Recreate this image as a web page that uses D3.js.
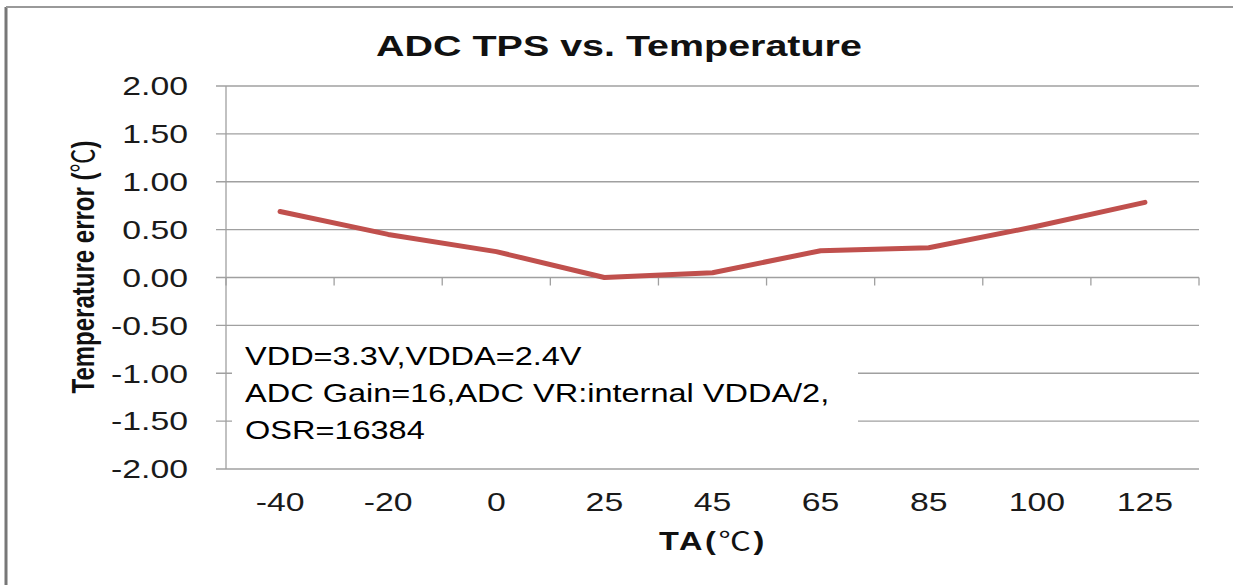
<!DOCTYPE html>
<html><head><meta charset="utf-8">
<script src="https://cdn.jsdelivr.net/npm/d3@7"></script>
<style>body{margin:0;background:#fff}svg{display:block}text{font-family:Arial,"Liberation Sans",sans-serif}</style>
</head><body><svg id="c" width="1233" height="585"></svg>
<script>
const categories = ["-40","-20","0","25","45","65","85","100","125"];
const errorValues = [0.69,0.45,0.27,0.00,0.05,0.28,0.31,0.535,0.785];
const yTicks = [2,1.5,1,0.5,0,-0.5,-1,-1.5,-2];
const notes = ["VDD=3.3V,VDDA=2.4V","ADC Gain=16,ADC VR:internal VDDA/2,","OSR=16384"];

const svg = d3.select("#c");
const L=226,R=1199,T=86,B=469;
const SX=1.3; // horizontal stretch of the original image's text
const x = d3.scaleBand().domain(categories).range([L,R]).padding(0);
const y = d3.scaleLinear().domain([-2,2]).range([B,T]);

// outer frame
svg.append("line").attr("x1",6).attr("x2",6).attr("y1",7).attr("y2",585).attr("stroke","#777").attr("stroke-width",3);
svg.append("line").attr("x1",6).attr("x2",1233).attr("y1",7).attr("y2",7).attr("stroke","#999").attr("stroke-width",2);

// gridlines
svg.append("g").selectAll("line").data(yTicks).join("line")
  .attr("x1",L-10).attr("x2",R).attr("y1",d=>y(d)).attr("y2",d=>y(d))
  .attr("stroke","#a0a0a0").attr("stroke-width",1.3);
// y axis
svg.append("line").attr("x1",L).attr("x2",L).attr("y1",T).attr("y2",B).attr("stroke","#a0a0a0").attr("stroke-width",1.3);
// x ticks on zero line
const bounds = categories.map(c=>x(c)+x.bandwidth()).concat([L]);
svg.append("g").selectAll("line").data(bounds).join("line")
  .attr("x1",d=>d).attr("x2",d=>d).attr("y1",y(0)).attr("y2",y(0)+8)
  .attr("stroke","#a0a0a0").attr("stroke-width",1.3);

// y tick labels
svg.append("g").selectAll("text").data(yTicks).join("text")
  .attr("transform",d=>`translate(188,${y(d)}) scale(${SX},1)`)
  .attr("dy","0.36em").attr("text-anchor","end")
  .attr("font-size",26).attr("fill","#1a1a1a").text(d=>d.toFixed(2));
// x tick labels
svg.append("g").selectAll("text").data(categories).join("text")
  .attr("transform",d=>`translate(${x(d)+x.bandwidth()/2},511) scale(${SX},1)`)
  .attr("text-anchor","middle")
  .attr("font-size",26).attr("fill","#1a1a1a").text(d=>d);

// annotation box
svg.append("rect").attr("x",232).attr("y",336).attr("width",626).attr("height",104).attr("fill","#fff");
svg.append("g").selectAll("text").data(notes).join("text")
  .attr("transform",(d,i)=>`translate(245,${365+i*37}) scale(1.25,1)`)
  .attr("font-size",26).attr("fill","#000").text(d=>d);

// line
svg.append("path").datum(errorValues)
  .attr("d",d3.line().x((d,i)=>x(categories[i])+x.bandwidth()/2).y(d=>y(d)))
  .attr("fill","none").attr("stroke","#c0504d").attr("stroke-width",5).attr("stroke-linecap","round").attr("stroke-linejoin","round");

// title
svg.append("text").attr("transform","translate(619,56) scale(1.36,1)").attr("text-anchor","middle")
  .attr("font-size",29).attr("font-weight","bold").attr("fill","#111").text("ADC TPS vs. Temperature");
// axis titles
const yl = svg.append("text").attr("transform",`translate(94,267) scale(${SX},1) rotate(-90)`).attr("text-anchor","middle")
  .attr("font-size",24).attr("font-weight","bold").attr("fill","#111");
yl.append("tspan").text("Temperature error (");
yl.append("tspan").attr("font-family","Noto Sans CJK SC").attr("font-weight","normal").text("℃");
yl.append("tspan").text(")");
const xl = svg.append("text").attr("transform",`translate(713,550) scale(${SX},1)`).attr("text-anchor","middle")
  .attr("font-size",25).attr("font-weight","bold").attr("fill","#111").attr("letter-spacing",2);
xl.append("tspan").text("TA(");
xl.append("tspan").attr("font-family","Noto Sans CJK SC").attr("font-weight","normal").text("℃");
xl.append("tspan").text(")");
</script></body></html>
